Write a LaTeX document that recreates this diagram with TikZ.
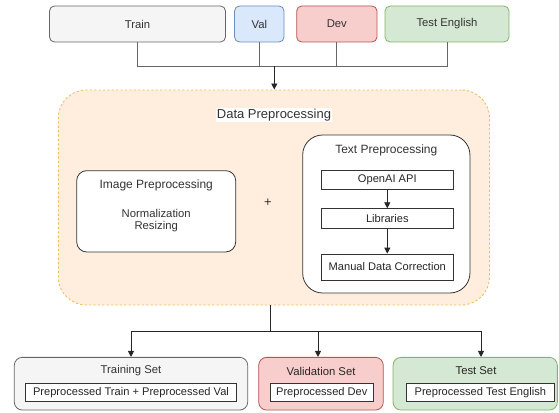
\documentclass[tikz,border=0pt]{standalone}
\usepackage{fontspec}
\setmainfont{Liberation Sans}
\usetikzlibrary{arrows.meta}
\definecolor{grayfill}{HTML}{F5F5F5}
\definecolor{graydraw}{HTML}{666666}
\definecolor{graytext}{HTML}{333333}
\definecolor{bluefill}{HTML}{DAE8FC}
\definecolor{bluedraw}{HTML}{6C8EBF}
\definecolor{redfill}{HTML}{F8CECC}
\definecolor{reddraw}{HTML}{B85450}
\definecolor{greenfill}{HTML}{D5E8D4}
\definecolor{greendraw}{HTML}{82B366}
\definecolor{orfill}{HTML}{FFEEDD}
\definecolor{ordraw}{HTML}{EEBF5C}
\tikzset{
  box/.style={rectangle, rounded corners=5pt, line width=0.8pt, inner sep=0pt, font=\fontsize{11.3}{13}\selectfont, text=graytext},
  graybox/.style={box, fill=grayfill, draw=graydraw},
  bluebox/.style={box, fill=bluefill, draw=bluedraw},
  redbox/.style={box, fill=redfill, draw=reddraw},
  greenbox/.style={box, fill=greenfill, draw=greendraw},
  whitebox/.style={rectangle, draw=black!80, fill=white, line width=0.8pt, inner sep=0pt, font=\fontsize{11.1}{13}\selectfont, text=black!85},
  lbl/.style={inner sep=0pt, font=\fontsize{11.3}{13}\selectfont, text=graytext},
  conn/.style={line width=0.8pt, draw=graydraw},
  arr/.style={line width=0.8pt, draw=black!85, -{Triangle[length=6pt,width=6pt]}},
}
\begin{document}
\begin{tikzpicture}[x=1pt,y=-1pt]
\useasboundingbox (0,0) rectangle (559,412);
% top sources
\node[graybox, minimum width=176pt, minimum height=36pt] (train) at (137.5,24) {Train};
\node[bluebox, minimum width=49.5pt, minimum height=36pt] (val) at (259.3,24) {Val};
\node[redbox, minimum width=80.3pt, minimum height=36pt] (dev) at (336.8,24) {Dev};
\node[greenbox, minimum width=124pt, minimum height=36pt] (test) at (447,24) {Test English};
% container
\node[rectangle, rounded corners=28pt, fill=orfill, draw=ordraw, line width=0.9pt, dash pattern=on 2.2pt off 2.2pt, minimum width=431.2pt, minimum height=215pt] (dp) at (273.9,197.5) {};
\node[fill=white, inner sep=1pt, font=\fontsize{13}{15}\selectfont, text=graytext] (dplbl) at (274,115) {Data Preprocessing};
% merge connectors
\coordinate (junc) at (274.3,66);
\draw[conn] (train.south) |- (junc);
\draw[conn] (val.south) |- (junc);
\draw[conn] (dev.south) |- (junc);
\draw[conn] (test.south) |- (junc);
\draw[arr] (junc) -- (junc |- dp.north);
% image preprocessing
\node[rectangle, rounded corners=10pt, fill=white, draw=black!80, line width=0.8pt, minimum width=159pt, minimum height=81.3pt] (img) at (156.2,211.3) {};
\node[lbl, font=\fontsize{12}{14}\selectfont] (imgt) at (156.2,185) {Image Preprocessing};
\node[lbl] (norm) at (156.2,213) {Normalization};
\node[lbl] (resz) at (156.2,226.7) {Resizing};
\node[lbl, font=\fontsize{13}{15}\selectfont] (plus) at (268,203) {+};
% text preprocessing
\node[rectangle, rounded corners=20pt, fill=white, draw=black!80, line width=0.8pt, minimum width=167.3pt, minimum height=158pt] (txt) at (386.3,214) {};
\node[lbl, font=\fontsize{12}{14}\selectfont] (txtt) at (386.3,150) {Text Preprocessing};
\node[whitebox, minimum width=131.3pt, minimum height=18.3pt] (api) at (387.3,179.8) {OpenAI API};
\node[whitebox, minimum width=131.3pt, minimum height=20pt] (lib) at (387.3,218.7) {Libraries};
\node[whitebox, minimum width=131.3pt, minimum height=26pt] (man) at (387.3,267) {Manual Data Correction};
\draw[arr] (api) -- (lib);
\draw[arr] (lib) -- (man);
% outputs
\node[graybox, rounded corners=8pt, minimum width=233.4pt, minimum height=52.7pt] (trs) at (131,383.7) {};
\node[lbl] (trst) at (131,371) {Training Set};
\node[whitebox, minimum width=211.4pt, minimum height=18pt] (tri) at (131,392.7) {Preprocessed Train + Preprocessed Val};
\node[redbox, rounded corners=8pt, minimum width=124.6pt, minimum height=52.7pt] (vas) at (321,383.7) {};
\node[lbl, text=black!85] (vast) at (321,371) {Validation Set};
\node[whitebox, minimum width=102.5pt, minimum height=18pt] (vai) at (321.8,392.7) {Preprocessed Dev};
\node[greenbox, rounded corners=8pt, minimum width=164.3pt, minimum height=52.7pt] (tes) at (475.2,383.7) {};
\node[lbl, text=black!85] (test2) at (476,371) {Test Set};
\node[whitebox, minimum width=148pt, minimum height=18pt] (tei) at (480.3,392.7) {Preprocessed Test English};
% split connectors
\coordinate (split) at (270,331);
\draw[line width=0.8pt, draw=black!85] (split |- dp.south) -- (split);
\draw[arr] (split) -| (trs.north);
\draw[arr] (split) -| ([xshift=-3pt]vas.north);
\draw[arr] (split) -| ([xshift=5.8pt]tes.north);
\end{tikzpicture}
\end{document}
